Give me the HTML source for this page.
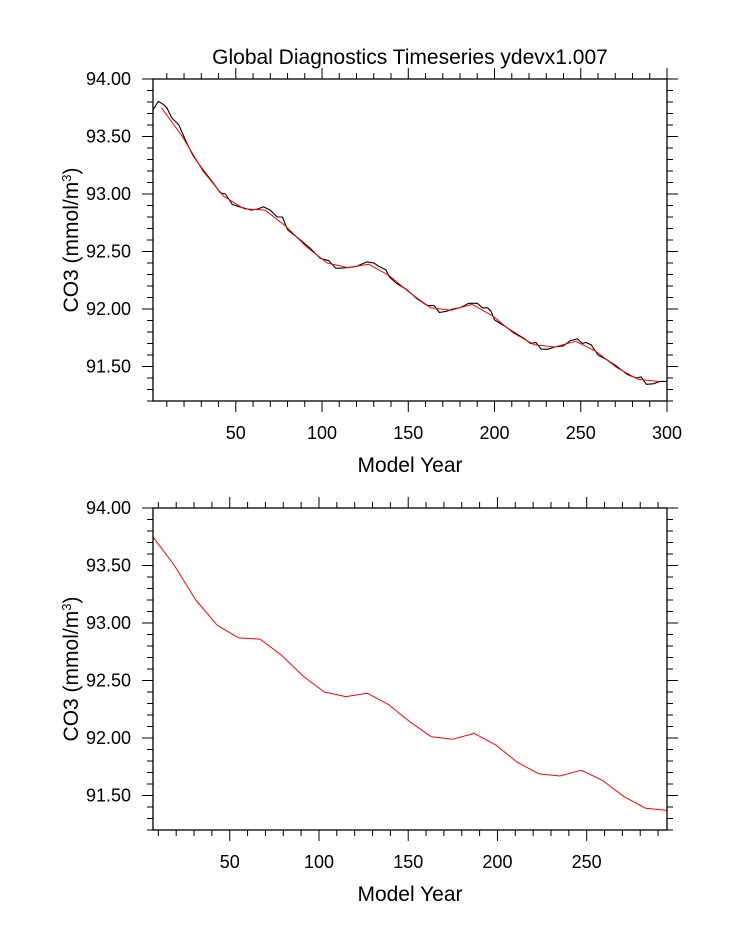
<!DOCTYPE html>
<html><head><meta charset="utf-8"><style>
body{margin:0;background:#fff}
svg{display:block;font-family:"Liberation Sans",Arial,sans-serif}
</style></head><body>
<svg id="chart" width="733" height="945" viewBox="0 0 733 945" xmlns="http://www.w3.org/2000/svg">
<rect width="733" height="945" fill="#fff"/>
<text x="410" y="64" font-size="21" text-anchor="middle">Global Diagnostics Timeseries ydevx1.007</text>
<g id="p1"></g><g id="p2"></g>
</svg>
<script>
const annualYears=[2,5,8,10,13,17,19,22,25,31,37,41,44,48,52,59,63,66,70,74,77,80,85,93,99,104,108,111,115,120,126,130,133,137,139,143,149,155,161,165,168,172,176,180,185,190,193,196,198,200,205,211,217,221,224,227,231,235,240,244,248,251,253,256,260,265,271,277,282,285,288,292,296,300];
const annualValues=[93.73,93.805,93.78,93.75,93.66,93.60,93.53,93.43,93.34,93.21,93.095,93.01,93.0,92.91,92.89,92.86,92.87,92.89,92.86,92.80,92.80,92.69,92.63,92.53,92.44,92.42,92.355,92.355,92.36,92.37,92.41,92.40,92.37,92.34,92.28,92.225,92.17,92.09,92.03,92.03,91.97,91.98,92.00,92.01,92.05,92.05,92.01,92.01,91.98,91.905,91.86,91.80,91.745,91.70,91.71,91.65,91.65,91.67,91.68,91.725,91.74,91.70,91.71,91.69,91.60,91.56,91.50,91.43,91.40,91.41,91.345,91.35,91.37,91.37];
const decadalYears=[7,19,31,43,55,67,79,91,103,115,127,139,151,163,175,187,199,211,223,235,247,259,271,283,295];
const decadalValues=[93.75,93.50,93.20,92.98,92.87,92.86,92.72,92.54,92.40,92.36,92.39,92.29,92.14,92.01,91.99,92.04,91.94,91.79,91.69,91.67,91.72,91.63,91.49,91.39,91.37];
const yTickLabels=["94.00","93.50","93.00","92.50","92.00","91.50"];
const yTickValues=[94,93.5,93,92.5,92,91.5];
const xTickLabels=["50","100","150","200","250","300"];
const xTickValues=[50,100,150,200,250,300];
const NS="http://www.w3.org/2000/svg";
function mk(tag,attrs,parent){const e=document.createElementNS(NS,tag);for(const k in attrs)e.setAttribute(k,attrs[k]);parent.appendChild(e);return e;}
function panel(g,top,bottom,xmin,xmax,series,prefix){
  const L=153,R=667,ymin=91.2,ymax=94.0;
  const sx=v=>L+(v-xmin)/(xmax-xmin)*(R-L);
  const sy=v=>top+(ymax-v)/(ymax-ymin)*(bottom-top);
  const tk=[];
  for(let v=10;v<=xmax;v+=10){if(v<xmin)continue;const maj=v%50===0;const len=maj?11:6;const x=sx(v);
    tk.push(`M${x},${bottom}v${len}M${x},${top}v${-len}`);}
  for(let i=0;i<=28;i++){const v=91.2+i*0.1;const maj=Math.abs((v*10)%5)<0.01||Math.abs((v*10)%5-5)<0.01;const len=maj?11:6;const y=sy(v);
    tk.push(`M${L},${y}h${-len}M${R},${y}h${len}`);}
  const ticks=mk('path',{d:tk.join(''),stroke:'#000','stroke-width':1,fill:'none'},g);
  
  
  yTickValues.forEach((v,i)=>{const t=mk('text',{x:131,y:sy(v)+6,'font-size':18,'text-anchor':'end'},g);t.textContent=yTickLabels[i];
    
    });
  xTickValues.forEach((v,i)=>{if(v>xmax+1)return;const t=mk('text',{x:sx(v),y:bottom+38,'font-size':18,'text-anchor':'middle'},g);t.textContent=xTickLabels[i];
    
    });
  series.forEach(s=>{const d=s.x.map((x,i)=>(i?'L':'M')+sx(x).toFixed(1)+','+sy(s.y[i]).toFixed(1)).join('');
    const p=mk('path',{d:d,stroke:s.c,'stroke-width':s.w,fill:'none','stroke-linejoin':'round'},g);
    
    });
  const fr=mk('rect',{x:L,y:top,width:R-L,height:bottom-top,fill:'none',stroke:'#000','stroke-width':1.3},g);
  
  
  const xt=mk('text',{x:410,y:bottom+71,'font-size':21,'text-anchor':'middle'},g);xt.textContent='Model Year';
  
  
  const cy=(top+bottom)/2;
  const yt=mk('text',{x:0,y:0,'font-size':21,'text-anchor':'middle',transform:`translate(78,${cy}) rotate(-90)`},g);
  yt.innerHTML='CO3 (mmol/m<tspan dy="-7" font-size="13">3</tspan><tspan dy="7">)</tspan>';
  
  
}
panel(document.getElementById('p1'),79,401,2,300,[
  {x:annualYears,y:annualValues,c:'#000',w:1.1,n:'annual-series-line'},
  {x:decadalYears,y:decadalValues,c:'#ff0000',w:1,n:'decadal-series-line'}],'top-panel');
panel(document.getElementById('p2'),508,830,7,295,[
  {x:decadalYears,y:decadalValues,c:'#ff0000',w:1,n:'decadal-series-line'}],'bottom-panel');
</script>
</body></html>
